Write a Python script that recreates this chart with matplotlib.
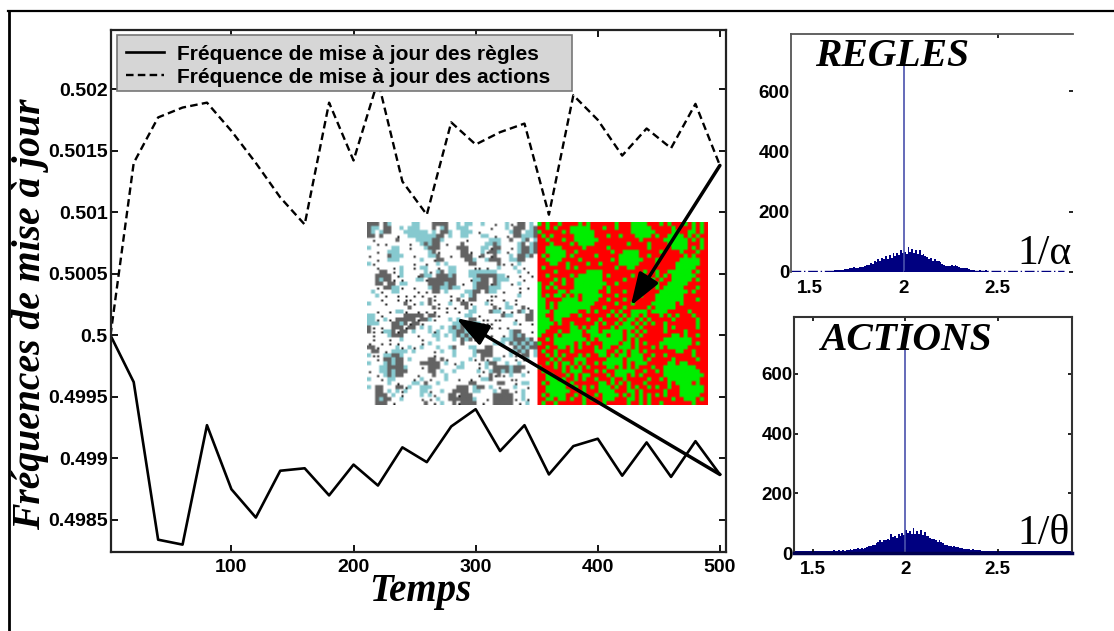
import numpy as np
import matplotlib
matplotlib.use('Agg')
import matplotlib.pyplot as plt
from matplotlib.lines import Line2D
from matplotlib.patches import Rectangle
from matplotlib.colors import to_rgb

W, H = 1114, 631

temps = [1, 20, 40, 60, 80, 100, 120, 140, 160, 180, 200, 220, 240, 260, 280, 300, 320, 340, 360, 380, 400, 420, 440, 460, 480, 500]
regles = [0.5, 0.49962, 0.49834, 0.4983, 0.49927, 0.49875, 0.49852, 0.4989, 0.49892, 0.4987, 0.49895, 0.49878, 0.49909,
          0.49897, 0.49926, 0.4994, 0.49906, 0.49927, 0.49887, 0.4991, 0.49916, 0.49886, 0.49913, 0.49885, 0.49914, 0.49887]
actions = [0.5, 0.5014, 0.50177, 0.50185, 0.50189, 0.50166, 0.5014, 0.50112, 0.5009, 0.50189, 0.50142, 0.50207, 0.50125,
           0.50098, 0.50173, 0.50155, 0.50165, 0.50172, 0.50098, 0.50195, 0.50175, 0.50146, 0.50168, 0.50152, 0.50188, 0.50138]

xticks_main = [100, 200, 300, 400, 500]
yticks_main = [0.4985, 0.499, 0.4995, 0.5, 0.5005, 0.501, 0.5015, 0.502]
ylabels_main = ['0.4985', '0.499', '0.4995', '0.5', '0.5005', '0.501', '0.5015', '0.502']

# histograms, bins of 0.01 from 1.40 to 2.90
hist_mid_r = [2, 4, 4, 5, 5, 7, 6, 8, 10, 9, 11, 14, 12, 15, 14, 13, 18, 16, 17, 19,
              24, 22, 30, 27, 36, 34, 44, 38, 46, 42, 52, 44, 58, 48, 62, 54, 64, 58, 72, 62,
              66, 60, 82, 66, 76, 62, 72, 60, 74, 56, 60, 52, 50, 44, 46, 38, 42, 36, 38, 32,
              26, 24, 20, 20, 20, 22, 20, 22, 20, 18, 14, 12, 12, 14, 9, 8, 5, 8, 4, 3,
              6, 3, 2, 5, 4]
hist_regles = [1]*20 + hist_mid_r + [1]*45

hist_mid_a = [6, 9, 7, 6, 9, 7, 11, 8, 10, 9, 13, 10, 14, 13, 18, 14, 17, 15, 18, 20,
              24, 22, 28, 26, 34, 38, 42, 38, 44, 42, 48, 44, 62, 52, 58, 50, 62, 56, 66, 60,
              78, 66, 74, 64, 84, 62, 72, 62, 78, 60, 70, 56, 58, 50, 48, 46, 44, 38, 44, 36,
              34, 28, 26, 24, 22, 20, 22, 20, 20, 18, 16, 14, 14, 12, 12, 10, 14, 10, 11, 9,
              9, 8, 7, 8, 7]
hist_actions = [7]*20 + hist_mid_a + [7]*45

hist_xticks = [1.5, 2, 2.5]
hist_xlabels = ['1.5', '2', '2.5']
hist_yticks = [0, 200, 400, 600]
spike_height = 690

# cell map, '#' green and '.' red
carte_actions = [
    "#.#..#....#.#......#...####...#.#...#.#.#.",
    "..#.#...#####...#..#...#####.....#....#.#.",
    "#.....#.######.........######....##..##.#.",
    ".#.#.....#####...#..#...####.#..####.#.#..",
    "..#...#..######..........#.....######.#.#.",
    "...#....#.####........#....#....#####...#.",
    "..####.....#.....#.........#.....####.#.#.",
    "..#####..#........#..####.....#....#...#..",
    ".#.####.#.....#.....#####..#........#.#...",
    "..####....#.......#.######...#.....#####..",
    "...##..#....#..#....#####....#....######..",
    ".#.....#.#.........#..##..........#####...",
    "....#.......####..........#..#..######.#..",
    "..#.....#.######.#.....#.....#.#.######...",
    "....#.#..#######.....#....#.#.#..#####.#..",
    "#..#..#..########..#.....#.#.#..#####.....",
    "#.#.#....#######.#.......#.#.#.#####...#..",
    "#....##.#######..#...#........#######.#...",
    "#.#.##.#.#.#####...#.....#...#######......",
    "##....####.####..#...#.......#######...#..",
    "##.#.#########.....#...#....######.#......",
    "##.#.########...#....#.....#.#####........",
    "###.######..#.#...#.#..####.####.....#....",
    "##..####..#......#.#.#.##.#...#.#.#...#...",
    "###.##......#..#....#.##.#.#.....#.....#..",
    "####.#..#.....#.#..#.##.#.#.#..#.......#..",
    "###.....##.#.##...#.####.#.....#.#.....#..",
    "##...#..###.###.#####.#.#.#....#....#.....",
    "#...#.#####..####.###.##.#.......##.#..#..",
    "..#.########.#.######.#.#......#######....",
    "#...#####.#.#...####.##.#.#...########.#..",
    "..#..##.#.#...#.##..###.#...#.#.#####.....",
    ".#..#...#.....###..#.#.##.#.......##..#...",
    "..#.#.#...#.#..##.#.##.###..#..#......#...",
    "...#.#...###.....####.####.#.....#.....#..",
    "..#.#.##.#.#..#.#####.#.###.....##.##.....",
    "#...#.#.#.#.#....##.#.#.#...#..########...",
    ".#....#.###...#.#..#####..#..#.#########..",
    "..##...#.#.##....#.###.#.#.....##########.",
    "..###.#..#.#..#...#..#.....#..#.########..",
    ".#.####.#......##.#.#.#...#.....#.####.#..",
    "..#####..#.#.#.###.#..#.#..#.#..#..######.",
    "..######...#...####...##.#.....#...######.",
    ".#.####..#.#..#.####.#.#.#.#.#.#...#####..",
    "..##.##.#..#.#..###...##.#.#.....#..###.#.",
    ".#..#......#....#.....#..#.#..#.......#...",
]

# 'g' grey, 't' teal, 'k' black dot, '.' white
carte_regles = [
    "ggg.gt.....tt...gggg..t.tt..t..k..tk.gg.t.",
    "gtt.gg..t.ttt...g.tg..ttt.....k...t.ggg.tg",
    "gt.tgg...tttttt.t.ggt..ttt.k.......tgg.ttg",
    "gg.g...k..tttttttgg.t..tt...tt.k..k.ggtttg",
    ".k.....g....ttttggt.....k.....ttt..g..tg.tg",
    "..k.k.....k..tgtgg.k...g.....ttgt....tg.tg",
    "t.....tt..k...tggg....ggg...ttkgg..k.tggtg",
    "..k..ttt.......tgk.....ggk..tkggt.k..tggtg",
    "k....gttt..k...ttg..k..ggg.kg.kg...t.ggtg.",
    "..k..ttt.....t..kgg.....ggt..tggg..ttgg..",
    "tk.........k..k..t.t.....gg.....gk.k.t...",
    "..k...k.t..k.tt..k..tt....kk.k..t...t.k..",
    "...gg.k.t.....tk.tg.tt...ttttttt.....t.k.",
    "..gggg.kt...kgtt.gggtg...ttgggggttk..k..k",
    "..gtggk.k...ttkggggggg...kttgg.gttt...k..",
    "..gg.gg.tt.....ggggtgg.k..tgggkgt..k.t...",
    "..k.ggttk..k...tggttgtt...tgggttt....k.k.",
    ".t.k..tt....k.k.gg.t....ttgg.gtt.k...k..",
    "..t.k..k.k.k.k..k...k..t.tg...kk.....t..",
    "...k...k.kk....gk...k.gk.gg..kk..k..k...",
    "t...k....g.k.t.g.k..t..ggk...tk...t.k...",
    "..........g.....gk.k.k..g.t....gk.tt..gk.",
    "..k..k.ttk..k.k.k..k..k..tt...gttk.k.gt.g",
    "tt.k.....ggggg.ggk......tt.k.....gtt...gg",
    "ttk.tk.gggggkggtk...t.t..gg.kk.kk...k..gg",
    "ttt...ggtgkggk.......ttgtgttkkk.....tk..k",
    "gk.k..gggkgg.t.t..t.tgtgtgtk..k.k.k.....",
    "gk.kttgkgg.t...tkt..ttggtgtt.......tgg..k",
    ".k...tggg...k...tt.t.tgtgtgt..k..k.tgtg..",
    ".k...k..t....k...t...t.gtgk......tttgggtg",
    "k..k.k.k.....k.t.......g.......ttt.gtgtgtg",
    "ggk....tk.tk.t...t..tg...tt..gg.....gtgtgg",
    ".gg.k.tttt.t....k.t..t....tgggg....ttgtg.t",
    "tkk.ttggt.......k....t....t.ggg..k.tk.gg.t",
    "..k.ggtgg.t....gg.gk.....tk.gk.tt...k.kt.",
    "t...tgtgg....ggggg.t.k.t...k.tgg..t..t..",
    "...ttggggt...k.ggg....tt...k.t.ggggtggg..",
    "k..ttgtggg.....gg.t..t.....tk.tggtgtgg.k",
    "..k.tgtgg...k...g..t.......k..gkgk.t..t.",
    "t..k.tt....k.t.k...t..k..k..ttg....kk...",
    ".....t.k...tt.g..t.......gg.....gg..k.tt",
    "t.gg...ggkt..ttt......ggg.tgg.t.k...t..k",
    "..gg.t.tkt...ttk..t..gggg.tt...t.gg.k.t.",
    "..ggg.t.k....t.tk...ggkggg.....ggggg..t.",
    "..gtgg..t....k.k.t..ggggggt..k.gggggk.tk",
    "..ggg.k.......g.k.t..gkgggg.k..ggggg.k.t",
]

couleurs_regles = {'.': '#ffffff', 't': '#86c9cf', 'g': '#636363', 'k': '#111111'}
couleurs_actions = {'.': '#ff0000', '#': '#00ee00'}


def grille(rows, couleurs):
    # each cell becomes 2x2 so the black dots can stay small like in the picture
    out = np.ones((2*len(rows), 84, 3))
    for i, r in enumerate(rows):
        r = r.ljust(42, '.')[:42]
        for j, c in enumerate(r):
            if c == 'k':
                out[2*i:2*i+2, 2*j:2*j+2] = to_rgb(couleurs['.'])
                out[2*i+1, 2*j+1] = to_rgb(couleurs['k'])
            else:
                out[2*i:2*i+2, 2*j:2*j+2] = to_rgb(couleurs[c])
    return out


def rect(x0, y0, x1, y1):
    # pixel box to figure fraction
    return [x0/W, 1-y1/H, (x1-x0)/W, (y1-y0)/H]


plt.rcParams['font.family'] = ['Liberation Sans', 'DejaVu Sans']

fig = plt.figure(figsize=(W/100, H/100), dpi=100)

fig.add_artist(Line2D([8/W, 1], [1-11/H, 1-11/H], color='k', lw=1.6))
fig.add_artist(Line2D([8.5/W, 8.5/W], [0, 1-11/H], color='k', lw=2))

# main chart
ax = fig.add_axes(rect(110.5, 30, 726, 552))
image = np.hstack([grille(carte_regles, couleurs_regles), grille(carte_actions, couleurs_actions)])
ax.imshow(image, extent=[211, 489.5, 0.49943, 0.50091], aspect='auto', interpolation='bilinear', zorder=1)
ax.plot(temps, regles, color='k', lw=1.9, label='Fréquence de mise à jour des règles', zorder=2)
ax.plot(temps, actions, color='k', lw=1.7, ls=(0, (3.2, 1.8)), label='Fréquence de mise à jour des actions', zorder=2)
ax.set_xlim(1, 505)
ax.set_ylim(0.49824, 0.50248)
ax.set_xticks(xticks_main)
ax.set_yticks(yticks_main)
ax.set_yticklabels(ylabels_main)
ax.tick_params(direction='in', length=5, width=1.3, top=True, right=True, labelsize=14)
ax.tick_params(axis='x', pad=5)
ax.tick_params(axis='y', pad=2)
for lab in ax.get_xticklabels() + ax.get_yticklabels():
    lab.set_fontweight('bold')
for s in ax.spines.values():
    s.set_linewidth(1.6)
    s.set_color('#222222')

fleche = dict(arrowstyle='-|>,head_length=1.1,head_width=0.38', color='k', lw=2.5, mutation_scale=18, shrinkA=0, shrinkB=0)
ax.annotate('', xy=(427, 0.50024), xytext=(500, 0.50138), zorder=4, arrowprops=fleche)
ax.annotate('', xy=(284, 0.50014), xytext=(500, 0.49887), zorder=4, arrowprops=fleche)

# legend box is wider than its text in the reference, so the frame is drawn apart
ax.add_patch(Rectangle(((117-110.5)/615.5, 1-(91-30)/522), (572-117)/615.5, (91-35)/522, transform=ax.transAxes,
                       facecolor='#d6d6d6', edgecolor='#777777', lw=1.2, zorder=3))
leg = ax.legend(loc='upper left', bbox_to_anchor=(0.0105, 0.99), borderaxespad=0, frameon=False, handlelength=1.8,
                handletextpad=0.62, labelspacing=0.2, borderpad=0.45, prop=dict(family='Liberation Sans', weight='bold', size=15))
leg.set_zorder(3.5)

fig.text(420/W, 1-592/H, 'Temps', family='Liberation Serif', weight='bold', style='italic', size=28, ha='center', va='center')
fig.text(31/W, 1-314/H, 'Fréquences de mise à jour', family='Liberation Serif', weight='bold', style='italic', size=28.5,
         rotation=90, ha='center', va='center')


def histo(box, valeurs, titre, tx, ty, note, nx, ny):
    a = fig.add_axes(rect(*box))
    bords = 1.4 + 0.01*np.arange(len(valeurs))
    a.bar(bords, valeurs, width=0.01, align='edge', color='#000080', lw=0)
    a.vlines(2, 0, spike_height, color='#4a52ad', lw=1.2)
    a.set_xlim(1.4, 2.9)
    a.set_ylim(0, 790)
    a.set_xticks(hist_xticks)
    a.set_xticklabels(hist_xlabels)
    a.set_yticks(hist_yticks)
    a.tick_params(direction='in', length=3, width=1.2, labelsize=13.5)
    a.tick_params(axis='x', pad=6)
    a.tick_params(axis='y', pad=1)
    for lab in a.get_xticklabels() + a.get_yticklabels():
        lab.set_fontweight('bold')
    fig.text(tx/W, 1-ty/H, titre, family='Liberation Serif', weight='bold', style='italic', size=28.5, ha='left', va='center')
    fig.text(nx/W, 1-ny/H, note, family=['Liberation Serif', 'DejaVu Serif'], size=30, ha='left', va='center')
    return a


a1 = histo((791, 34, 1073, 272), hist_regles, 'REGLES', 815, 57, '1/α', 1017, 254)
a1.hlines(2, 1.4, 2.85, color='#000080', lw=1, ls=(0, (7, 2, 1, 2)))
a1.spines['right'].set_visible(False)
a1.spines['bottom'].set_visible(False)
a1.spines['top'].set_color('#555555')
a1.spines['left'].set_color('#555555')
a1.spines['top'].set_linewidth(1.3)
a1.spines['left'].set_linewidth(1.3)
a1.tick_params(axis='y', left=False, right=True, labelleft=True)
a1.yaxis.get_major_ticks()[2].tick2line.set_visible(False)
a1.tick_params(axis='x', bottom=False, top=True)
a1.xaxis.get_major_ticks()[0].tick2line.set_visible(False)
a1.xaxis.get_major_ticks()[1].tick2line.set_visible(False)

a2 = histo((794, 317, 1072, 553), hist_actions, 'ACTIONS', 820, 340, '1/θ', 1017, 534)
a2.tick_params(top=True, right=True)
for s in a2.spines.values():
    s.set_linewidth(1.5)
    s.set_color('#333333')
a2.spines['bottom'].set_linewidth(2.5)
a2.spines['bottom'].set_color('#000050')

fig.savefig('out.png', dpi=100)
